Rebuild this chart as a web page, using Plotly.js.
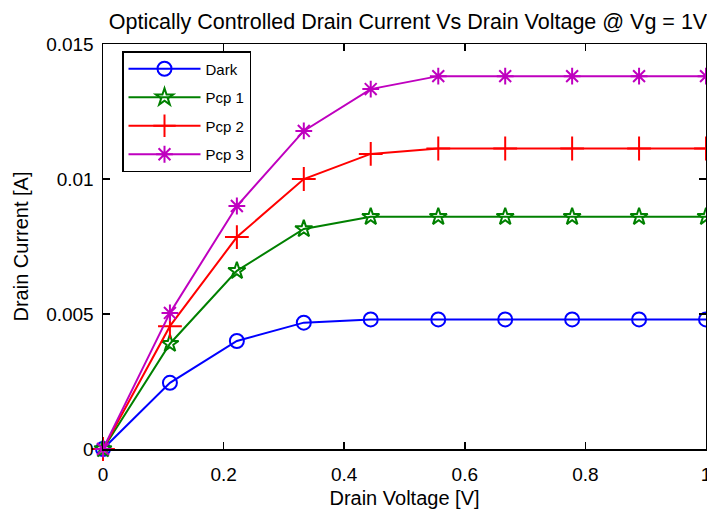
<!DOCTYPE html>
<html>
<head>
<meta charset="utf-8">
<script src="https://cdn.plot.ly/plotly-3.0.1.min.js"></script>
<style>html,body{margin:0;padding:0;background:#fff;}#chart{width:707px;height:513px;}</style>
</head>
<body>
<div id="chart"></div>
<script>
var drainVoltage = [0, 0.111, 0.222, 0.333, 0.444, 0.556, 0.667, 0.778, 0.889, 1.0];
var dark = [0, 0.00245, 0.0040, 0.00468, 0.0048, 0.0048, 0.0048, 0.0048, 0.0048, 0.0048];
var pcp1 = [0, 0.0039, 0.0066, 0.00815, 0.0086, 0.0086, 0.0086, 0.0086, 0.0086, 0.0086];
var pcp2 = [0, 0.00455, 0.00785, 0.0100, 0.01093, 0.01113, 0.01113, 0.01113, 0.01113, 0.01113];
var pcp3 = [0, 0.00504, 0.0090, 0.01178, 0.01333, 0.01381, 0.01381, 0.01381, 0.01381, 0.01381];
var seriesNames = ["Dark", "Pcp 1", "Pcp 2", "Pcp 3"];
var xTickVals = [0, 0.2, 0.4, 0.6, 0.8, 1];
var xTickText = ["0", "0.2", "0.4", "0.6", "0.8", "1"];
var yTickVals = [0, 0.005, 0.01, 0.015];
var yTickText = ["0", "0.005", "0.01", "0.015"];

var colors = ["#0000ff", "#008000", "#ff0000", "#bf00bf"];
var symbols = ["circle-open", "star-open", "cross-thin-open", "asterisk-open"];
var sizes = [14, 13, 17, 14];
var ys = [dark, pcp1, pcp2, pcp3];

var traces = ys.map(function (y, i) {
  return {
    x: drainVoltage, y: y, name: seriesNames[i], type: "scatter", mode: "lines+markers",
    line: {color: colors[i], width: 2},
    marker: {symbol: symbols[i], size: sizes[i], color: colors[i], line: {color: colors[i], width: 2}},
    cliponaxis: false, legendgroup: "g" + i
  };
});

var font = "Arial, 'Liberation Sans', sans-serif";
var layout = {
  width: 707, height: 513,
  margin: {l: 103, r: 1, t: 44, b: 64, autoexpand: false},
  paper_bgcolor: "#fff", plot_bgcolor: "#fff",
  font: {family: font, color: "#000"},
  title: {text: "Optically Controlled Drain Current Vs Drain Voltage @ Vg = 1V",
          font: {size: 21.5, family: font, color: "#000"},
          xref: "container", x: 408 / 707, xanchor: "center",
          yref: "container", y: 1 - 21 / 513, yanchor: "middle"},
  xaxis: {range: [0, 1], tickvals: xTickVals, ticktext: xTickText, automargin: false,
          ticks: "inside", ticklen: 7, tickwidth: 1.5, tickcolor: "#000",
          showline: true, linecolor: "#000", linewidth: 1.5, mirror: "ticks",
          showgrid: false, zeroline: false, ticklabeloverflow: "allow",
          tickfont: {size: 19}, ticklabelstandoff: 8,
          title: {text: "Drain Voltage [V]", font: {size: 20}, standoff: 6}},
  yaxis: {range: [0, 0.015], tickvals: yTickVals, ticktext: yTickText, automargin: false,
          ticks: "inside", ticklen: 7, tickwidth: 1.5, tickcolor: "#000",
          showline: true, linecolor: "#000", linewidth: 1.5, mirror: "ticks",
          showgrid: false, zeroline: false, ticklabeloverflow: "allow",
          tickfont: {size: 19}, ticklabelstandoff: 4,
          title: {text: "Drain Current [A]", font: {size: 20}, standoff: 12}},
  showlegend: true,
  legend: {x: (122 - 103) / 603, y: 1 - (51 - 44) / 405,
           xanchor: "left", yanchor: "top",
           bordercolor: "#000", borderwidth: 1.5, bgcolor: "#fff",
           font: {size: 15, family: font}, traceorder: "grouped", tracegroupgap: 6,
           itemwidth: 72, entrywidth: 130}
};

Plotly.newPlot("chart", traces, layout, {displayModeBar: false, staticPlot: true});
</script>
</body>
</html>
